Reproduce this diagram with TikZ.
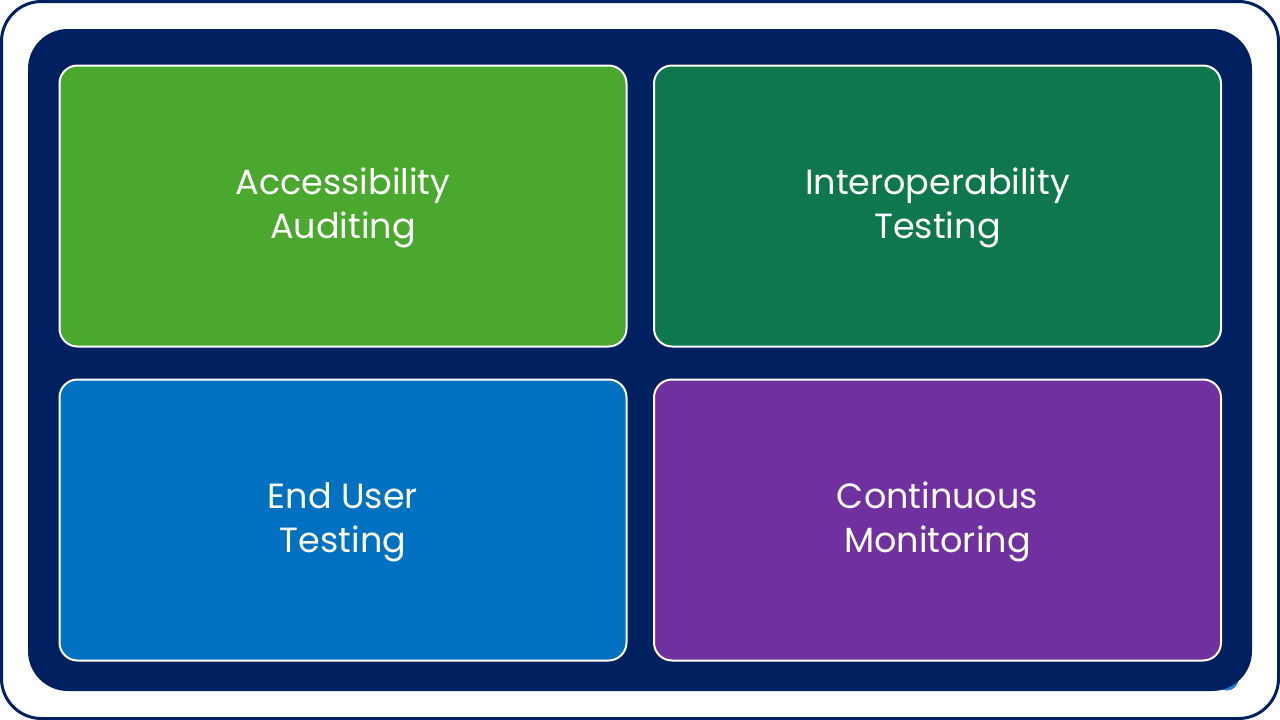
\documentclass[tikz,border=0pt]{standalone}
\usepackage{fontspec}
\setmainfont{Poppins}
\definecolor{navy}{HTML}{002060}
\definecolor{cgreen}{HTML}{4BA82E}
\definecolor{cdgreen}{HTML}{0F774D}
\definecolor{cblue}{HTML}{0070C0}
\definecolor{cpurple}{HTML}{7030A0}
\definecolor{blob}{HTML}{1F7FE0}
\begin{document}
\begin{tikzpicture}[x=1pt,y=-1pt,
  tile/.style={draw=white,line width=2pt,rounded corners=18pt,minimum width=567pt,minimum height=281pt,
    text=white,align=center,font=\fontsize{35}{44}\selectfont,inner sep=0pt}]
\useasboundingbox (0,0) rectangle (1280,720);
\fill[white] (0,0) rectangle (1280,720);
\draw[navy,line width=3pt,fill=white,rounded corners=40pt] (1.5,1.5) rectangle (1278.5,718.5);
\fill[blob] (1227,679) circle (11.5);
\fill[navy,rounded corners=40pt] (28,29) rectangle (1252,691);
\node[tile,fill=cgreen] (a) at (343,206) {};
\node[tile,fill=cdgreen] (b) at (937.5,206) {};
\node[tile,fill=cblue] (c) at (343,520) {};
\node[tile,fill=cpurple] (d) at (937.5,520) {};
\node[text=white,align=center,font=\fontsize{35}{44}\selectfont] (ta) at ([yshift=-2pt]a.center) {Accessibility\\Auditing};
\node[text=white,align=center,font=\fontsize{35}{44}\selectfont] (tb) at ([yshift=-2pt]b.center) {Interoperability\\Testing};
\node[text=white,align=center,font=\fontsize{35}{44}\selectfont] (tc) at ([yshift=-2pt]c.center) {End User\\Testing};
\node[text=white,align=center,font=\fontsize{35}{44}\selectfont] (td) at ([yshift=-2pt]d.center) {Continuous\\Monitoring};
\end{tikzpicture}
\end{document}
